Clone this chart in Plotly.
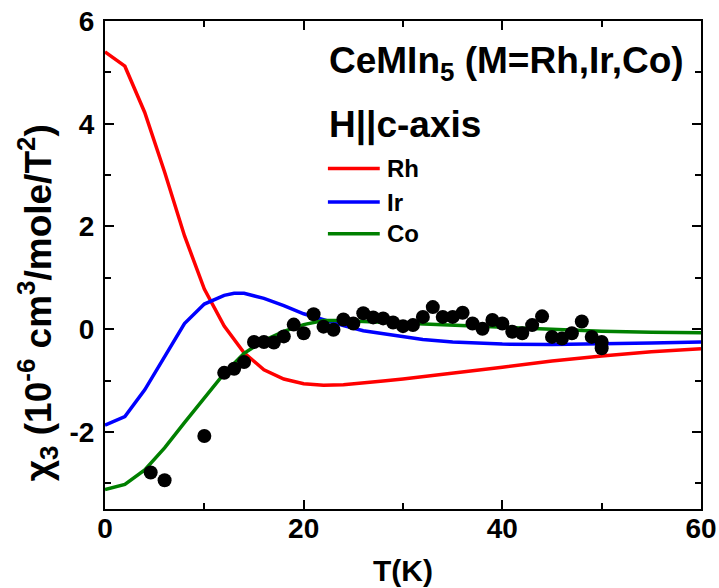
import plotly.graph_objects as go

# ---- data ----
T_rh = [0, 2, 4, 6, 8, 10, 12, 14, 16, 18, 20, 22, 24, 26, 28, 30, 35, 40, 45, 50, 55, 60]
chi_rh = [5.40, 5.12, 4.22, 3.06, 1.82, 0.78, 0.06, -0.46, -0.79, -0.97, -1.06, -1.09, -1.08,
          -1.05, -1.01, -0.97, -0.86, -0.74, -0.62, -0.52, -0.44, -0.38]

T_ir = [0, 2, 4, 6, 8, 10, 12, 13, 14, 16, 18, 20, 22, 24, 26, 28, 30, 32, 35, 40, 45, 50, 55, 60]
chi_ir = [-1.87, -1.70, -1.18, -0.52, 0.11, 0.49, 0.66, 0.70, 0.70, 0.60, 0.46, 0.30, 0.18,
          0.07, -0.03, -0.09, -0.15, -0.20, -0.25, -0.29, -0.30, -0.29, -0.27, -0.25]

T_co = [0, 2, 4, 6, 8, 10, 12, 14, 16, 18, 20, 22, 24, 26, 30, 35, 40, 45, 50, 55, 60]
chi_co = [-3.12, -3.02, -2.74, -2.31, -1.82, -1.33, -0.86, -0.47, -0.22, -0.04, 0.09, 0.17,
          0.17, 0.15, 0.12, 0.08, 0.04, 0.00, -0.04, -0.06, -0.07]

T_exp = [4.6, 6, 10, 12, 13, 14, 15, 16, 17, 18, 19, 20, 21, 22, 23, 24, 25, 26, 27, 28, 29,
         30, 31, 32, 33, 34, 35, 36, 37, 38, 39, 40, 41, 42, 43, 44, 45, 46, 47, 48, 49, 50, 50]
chi_exp = [-2.79, -2.94, -2.08, -0.85, -0.77, -0.64, -0.25, -0.25, -0.26, -0.14, 0.09, -0.08,
           0.29, 0.05, -0.01, 0.19, 0.11, 0.31, 0.23, 0.21, 0.13, 0.06, 0.08, 0.24, 0.43, 0.24,
           0.24, 0.32, 0.11, 0.01, 0.18, 0.11, -0.05, -0.08, 0.08, 0.25, -0.15, -0.18, -0.08,
           0.15, -0.15, -0.25, -0.37]

x_ticks = [0, 20, 40, 60]
x_ticktext = ["0", "20", "40", "60"]
x_minor = [10, 30, 50]
y_ticks = [-2, 0, 2, 4, 6]
y_ticktext = ["-2", "0", "2", "4", "6"]
y_minor = [-3, -1, 1, 3, 5]

series_names = ["Rh", "Ir", "Co"]
series_colors = ["#FF0000", "#0000FF", "#008000"]

FONT = "Liberation Sans, Arial, sans-serif"

fig = go.Figure()
for name, xs, ys, col in zip(series_names, [T_rh, T_ir, T_co], [chi_rh, chi_ir, chi_co], series_colors):
    fig.add_trace(go.Scatter(x=xs, y=ys, mode="lines", name=name,
                             line=dict(color=col, width=3.5), showlegend=False))
fig.add_trace(go.Scatter(x=T_exp, y=chi_exp, mode="markers", name="data",
                         marker=dict(color="black", size=14), showlegend=False))

axis_common = dict(
    showline=True, linecolor="black", linewidth=2, mirror="allticks",
    ticks="inside", ticklen=9, tickwidth=2, tickcolor="black",
    showgrid=False, zeroline=False, automargin=False,
    tickfont=dict(family=FONT, size=28, color="black", weight="bold"),
)
fig.update_xaxes(range=[0, 60], tickmode="array", tickvals=x_ticks, ticktext=x_ticktext,
                 minor=dict(tickvals=x_minor, ticks="inside", ticklen=6, tickwidth=2,
                            tickcolor="black"),
                 ticklabelstandoff=-7, **axis_common)
fig.update_yaxes(range=[-3.5, 6], tickmode="array", tickvals=y_ticks, ticktext=y_ticktext,
                 minor=dict(tickvals=y_minor, ticks="inside", ticklen=6, tickwidth=2,
                            tickcolor="black"),
                 ticklabelstandoff=3, **axis_common)

annotations = [
    dict(text="T(K)", x=0.5, y=-0.125, xref="paper", yref="paper", xanchor="center",
         yanchor="middle", showarrow=False,
         font=dict(family=FONT, size=30, color="black", weight="bold")),
    dict(text="χ<sub>3</sub> (10<sup>-6</sup> cm<sup>3</sup>/mole/T<sup>2</sup>)",
         x=-0.113, y=0.423, xref="paper", yref="paper", xanchor="center", yanchor="middle",
         textangle=-90, showarrow=False,
         font=dict(family=FONT, size=37, color="black", weight="bold")),
    dict(text="CeMIn<sub>5</sub> (M=Rh,Ir,Co)", x=0.372, y=0.913, xref="paper", yref="paper",
         xanchor="left", yanchor="middle", showarrow=False,
         font=dict(family=FONT, size=37, color="black", weight="bold")),
    dict(text="H||c-axis", x=0.372, y=0.787, xref="paper", yref="paper",
         xanchor="left", yanchor="middle", showarrow=False,
         font=dict(family=FONT, size=37, color="black", weight="bold")),
]
shapes = []
# manual legend (paper coords)
leg_y = [0.698, 0.629, 0.564]
for name, col, ly in zip(series_names, series_colors, leg_y):
    shapes.append(dict(type="line", xref="paper", yref="paper", x0=0.374, x1=0.461,
                       y0=ly, y1=ly, line=dict(color=col, width=3.5)))
    annotations.append(dict(text=name, x=0.470, y=ly, xref="paper", yref="paper",
                            xanchor="left", yanchor="middle", showarrow=False,
                            font=dict(family=FONT, size=24, color="black", weight="bold")))

fig.update_layout(
    width=719, height=588,
    margin=dict(l=105, r=18, t=21, b=79),
    plot_bgcolor="white", paper_bgcolor="white",
    annotations=annotations, shapes=shapes,
    showlegend=False,
)
fig.write_html("out.html")
